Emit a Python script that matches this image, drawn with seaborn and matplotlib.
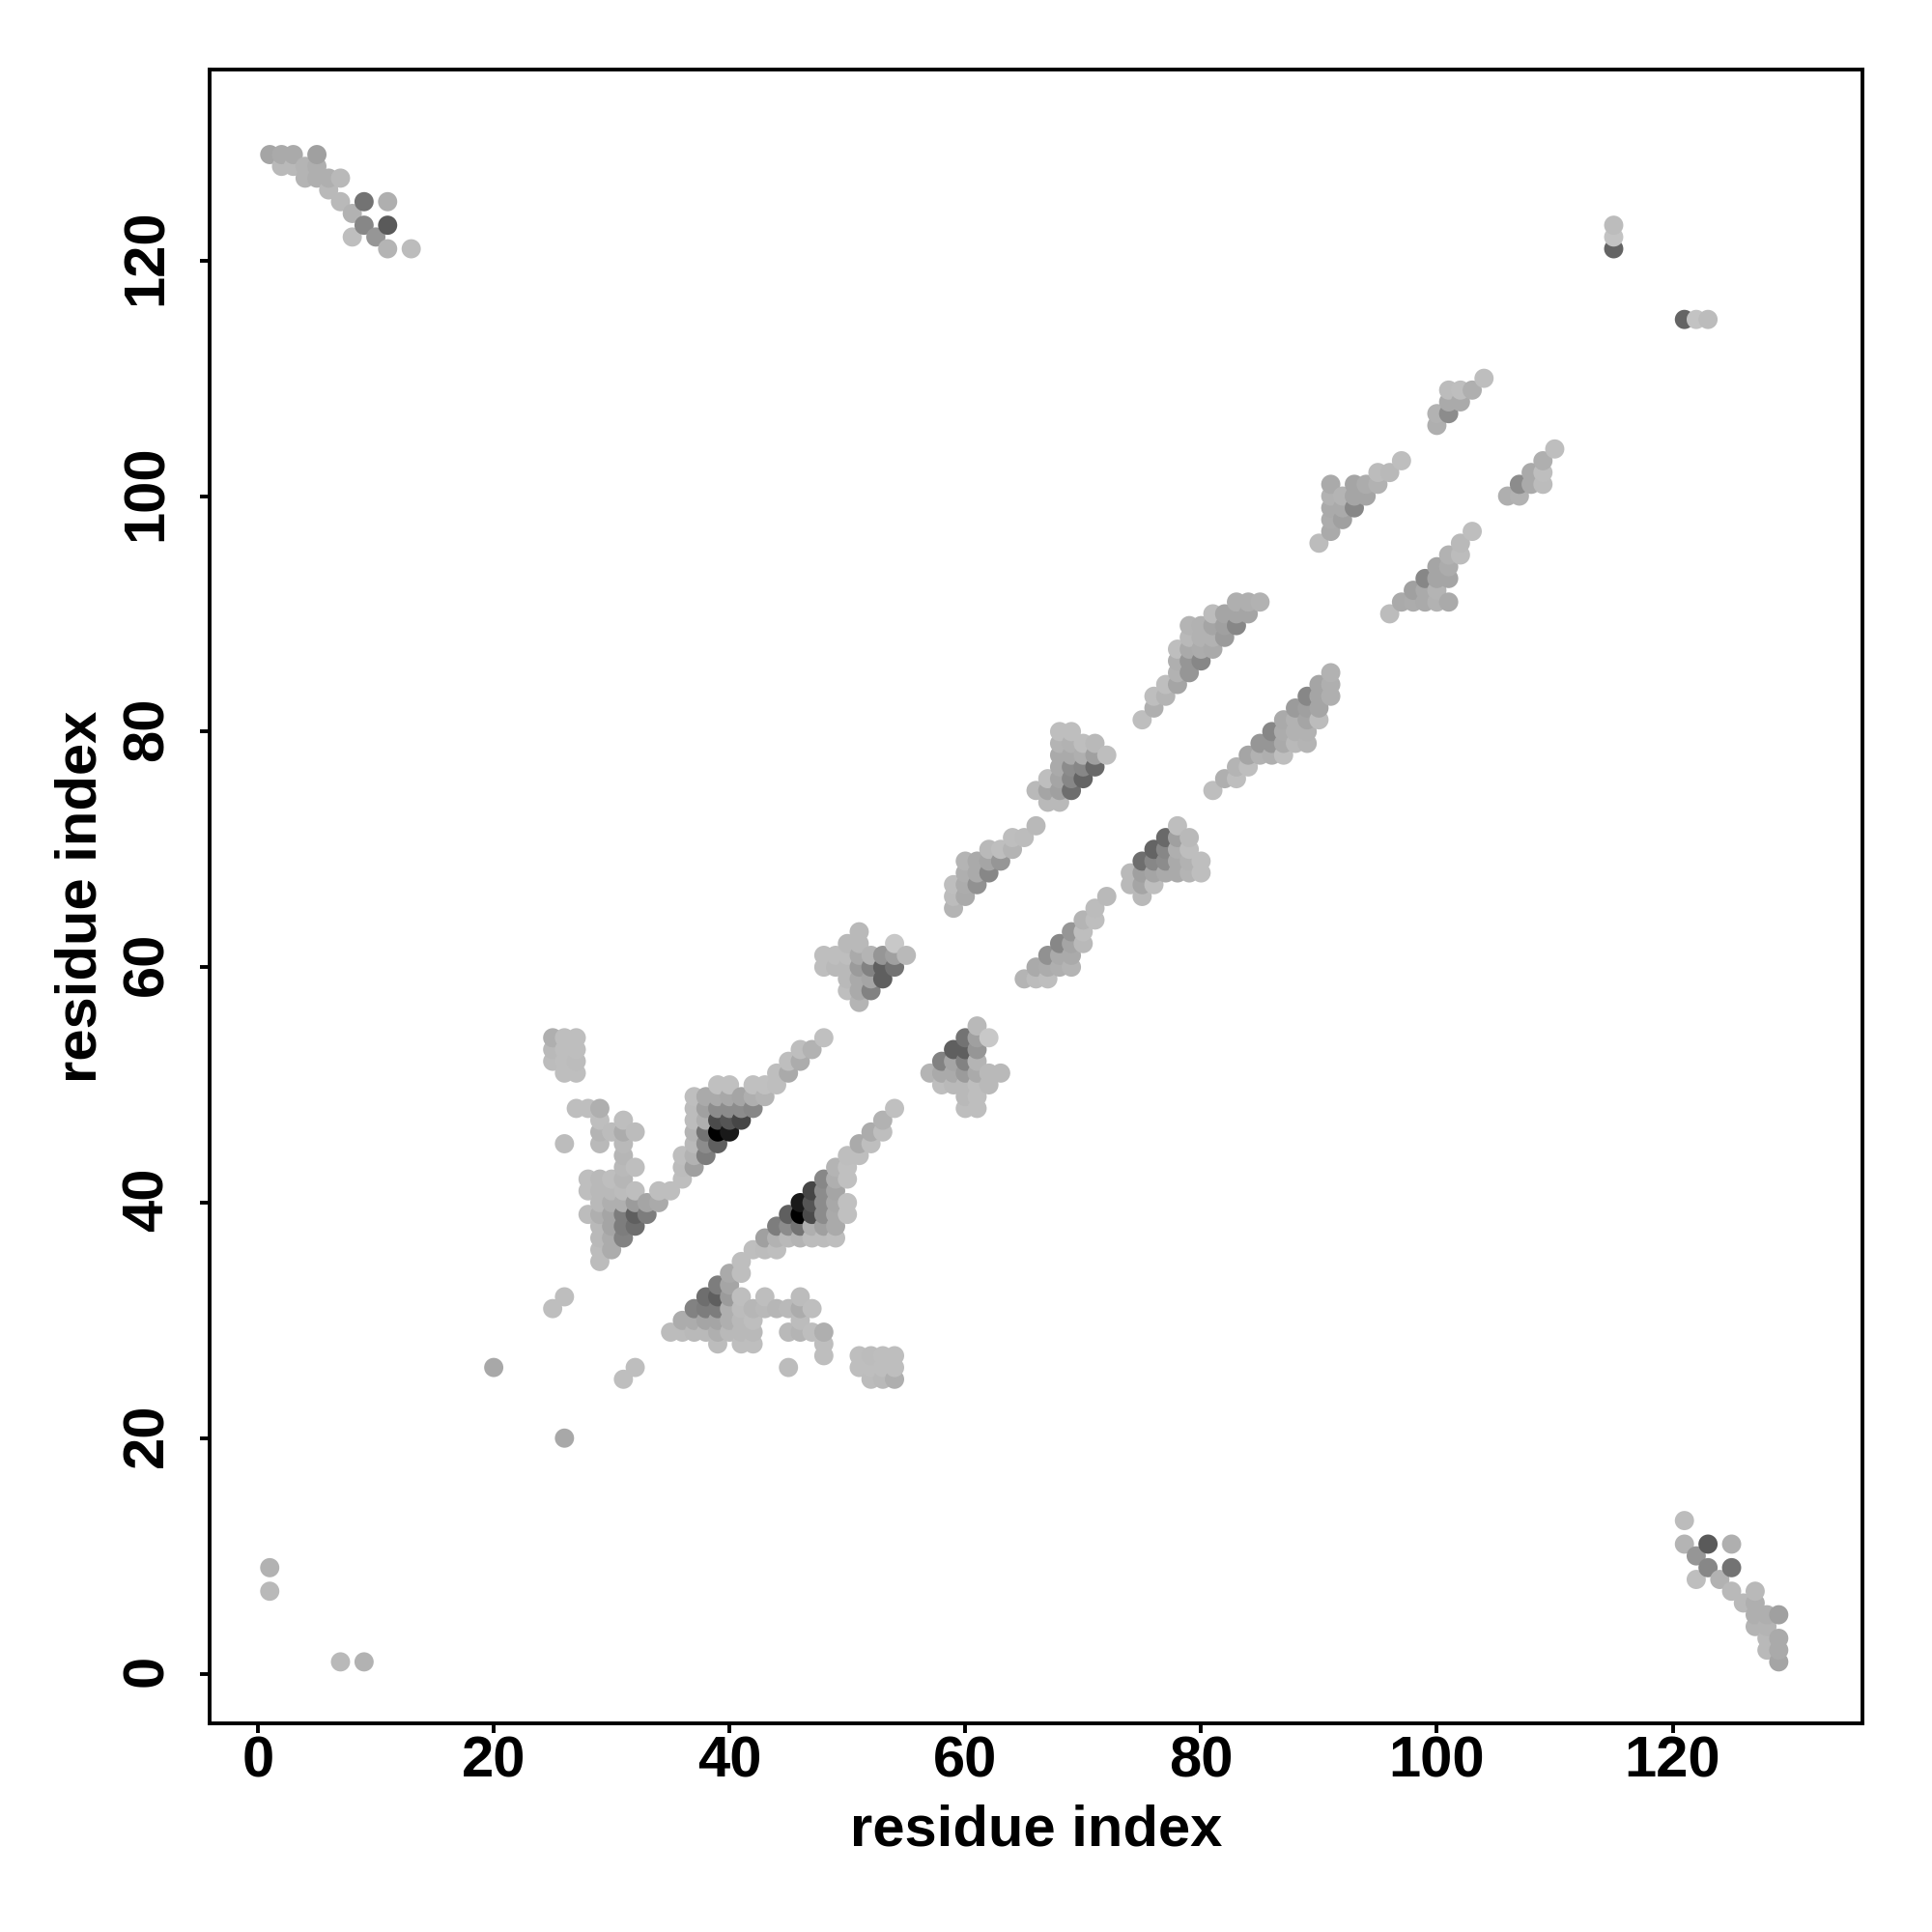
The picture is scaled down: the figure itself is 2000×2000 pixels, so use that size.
import pandas as pd
import matplotlib
matplotlib.use('Agg')
import matplotlib.pyplot as plt
from matplotlib.transforms import ScaledTranslation
import seaborn as sns

# Contacts, upper triangle only (x < y), one entry per row
row_y = [129, 128, 127, 126, 125, 124, 123, 122, 121,
         123, 122, 121,
         9, 7, 26, 31, 32, 45,
         54, 53, 52, 51, 48, 47, 46, 45, 44, 43, 42, 41, 40, 39, 38, 37, 36, 35,
         54, 53, 52, 51, 50, 49, 48, 47, 46, 45, 44, 43, 42,
         63, 62, 61, 60, 59, 58, 57,
         72, 71, 70, 69, 68, 67, 66, 65,
         80, 79, 78, 77, 76, 75, 74,
         81, 82, 83, 84, 85, 86, 87, 88, 89, 90, 91,
         96, 97, 98, 99, 100, 101, 102, 103,
         106, 107, 108, 109, 110]
row_x = [[1, 2, 3, 5], [2, 3, 4, 5], [4, 5, 6, 7], [6], [7, 9, 11], [8], [9, 11], [8, 10], [11, 13],
         [115], [115], [115],
         [1], [1], [20], [25], [26], [26],
         [25, 26, 27], [25, 26, 27], [25, 26, 27], [26, 27], [27, 28, 29], [29, 31], [29, 30, 31, 32],
         [29, 31], [31], [31, 32], [28, 29, 30, 31], [28, 29, 30, 31, 32, 34, 35],
         [29, 30, 31, 32, 33, 34], [28, 29, 30, 31, 32, 33], [29, 30, 31, 32], [29, 30, 31], [29, 30], [29],
         [48], [46, 47], [45, 46], [44, 45], [39, 40, 42, 43, 44], [37, 38, 39, 40, 41, 42, 43],
         [37, 38, 39, 40, 41, 42], [37, 38, 39, 40, 41], [37, 38, 39, 40], [37, 38, 39], [36, 37, 38], [36, 37], [36],
         [51], [50, 51, 54], [48, 49, 50, 51, 52, 53, 54, 55], [48, 49, 50, 51, 52, 53, 54],
         [50, 51, 52, 53], [50, 51, 52], [51],
         [66], [64, 65], [62, 63, 64], [60, 61, 62, 63], [60, 61, 62], [59, 60, 61], [59, 60], [59],
         [68, 69], [68, 69, 70, 71], [68, 69, 70, 71, 72], [68, 69, 70, 71], [67, 68, 69, 70], [66, 67, 68, 69], [67, 68],
         [75], [76], [76, 77], [77, 78], [78, 79], [78, 79, 80], [78, 79, 80, 81], [79, 80, 81, 82],
         [79, 80, 81, 82, 83], [81, 82, 83, 84], [83, 84, 85],
         [90], [91], [91, 92], [91, 92, 93], [91, 92, 93, 94], [91, 93, 94, 95], [95, 96], [97],
         [100], [100, 101], [101, 102], [101, 102, 103], [104]]
row_gray = [[165, 170, 170, 160], [185, 185, 180, 175], [180, 175, 175, 185], [185], [185, 115, 175], [178],
            [135, 90], [190, 150], [180, 188],
            [188], [195], [100],
            [178], [185], [168], [190], [190], [188],
            [175, 190, 190], [185, 190, 190], [188, 190, 188], [190, 190], [190, 190, 175], [190, 190],
            [180, 188, 172, 188], [185, 185], [182], [185, 190], [190, 185, 190, 182],
            [190, 185, 185, 188, 190, 190, 190],
            [185, 175, 175, 155, 165, 170], [188, 175, 165, 125, 95, 125], [185, 165, 125, 110],
            [185, 172, 130], [188, 172], [188],
            [192], [190, 178], [190, 172], [190, 170], [192, 192, 192, 192, 190],
            [190, 170, 170, 168, 165, 175, 180],
            [188, 160, 140, 140, 140, 135], [188, 175, 75, 85, 70], [180, 115, 0, 25], [185, 140, 95],
            [190, 178, 125], [188, 160], [190],
            [185], [185, 185, 200], [190, 190, 190, 170, 180, 150, 160, 185], [190, 185, 185, 155, 130, 95, 115],
            [185, 170, 165, 95], [190, 170, 130], [180],
            [185], [190, 188], [185, 190, 180], [180, 170, 165, 150], [175, 170, 135], [190, 172, 145], [188, 170], [180],
            [190, 190], [180, 178, 190, 185], [170, 170, 175, 160, 190], [170, 140, 135, 105], [190, 165, 135, 100],
            [185, 165, 160, 110], [185, 185],
            [190], [175], [190, 180], [190, 165], [178, 150], [175, 150, 135], [190, 170, 172, 170], [185, 178, 178, 155],
            [180, 178, 165, 160, 135], [188, 165, 165, 165], [175, 175, 178],
            [188], [170], [172, 160], [170, 170, 135], [178, 180, 165, 165], [170, 165, 172, 178], [188, 185], [190],
            [175], [178, 140], [170, 170], [188, 190, 175], [190]]

tick_values = [0, 20, 40, 60, 80, 100, 120]

# Flatten rows into one table
upper = pd.DataFrame({'y': row_y, 'x': row_x, 'gray': row_gray}).explode(['x', 'gray']).astype(int)

# The map is symmetric, so add the mirror image of every contact
lower = upper.rename(columns={'x': 'y', 'y': 'x'})
contacts = pd.concat([upper, lower[['y', 'x', 'gray']]]).sort_values(['x', 'y'])

sns.set_theme(style='white')
plt.rcParams['font.family'] = ['Liberation Sans', 'DejaVu Sans']

fig = plt.figure(figsize=(20, 20), dpi=100)
ax = fig.add_axes([217 / 2000, 1 - 1784 / 2000, (1928 - 217) / 2000, (1784 - 72) / 2000])

sns.scatterplot(data=contacts, x='x', y='y', hue='gray', palette='gray', hue_norm=(0, 255),
                s=205, linewidth=0, legend=False, ax=ax)

ax.set_xlim(-4.1, 136.1)
ax.set_ylim(-4.22, 136.22)
ax.set_xticks(tick_values)
ax.set_yticks(tick_values)

# Bold labels, y tick labels turned sideways
ax.tick_params(axis='x', length=7, width=2.8, color='black', labelcolor='black', labelsize=43, pad=2, bottom=True)
ax.tick_params(axis='y', length=7, width=2.8, color='black', labelcolor='black', labelsize=43, pad=19.5, left=True)
for label in ax.get_xticklabels():
    label.set_fontweight('bold')
nudge = ScaledTranslation(0, 2.2 / 72, fig.dpi_scale_trans)
for label in ax.get_yticklabels():
    label.set_fontweight('bold')
    label.set_rotation(90)
    label.set_verticalalignment('center')
    label.set_transform(label.get_transform() + nudge)

ax.set_xlabel('residue index', fontsize=43, fontweight='bold', color='black', labelpad=11.5)
ax.set_ylabel('residue index', fontsize=43, fontweight='bold', color='black', labelpad=10)

for spine in ax.spines.values():
    spine.set_color('black')
    spine.set_linewidth(2.8)

fig.savefig('out.png', dpi=100, facecolor='white')
